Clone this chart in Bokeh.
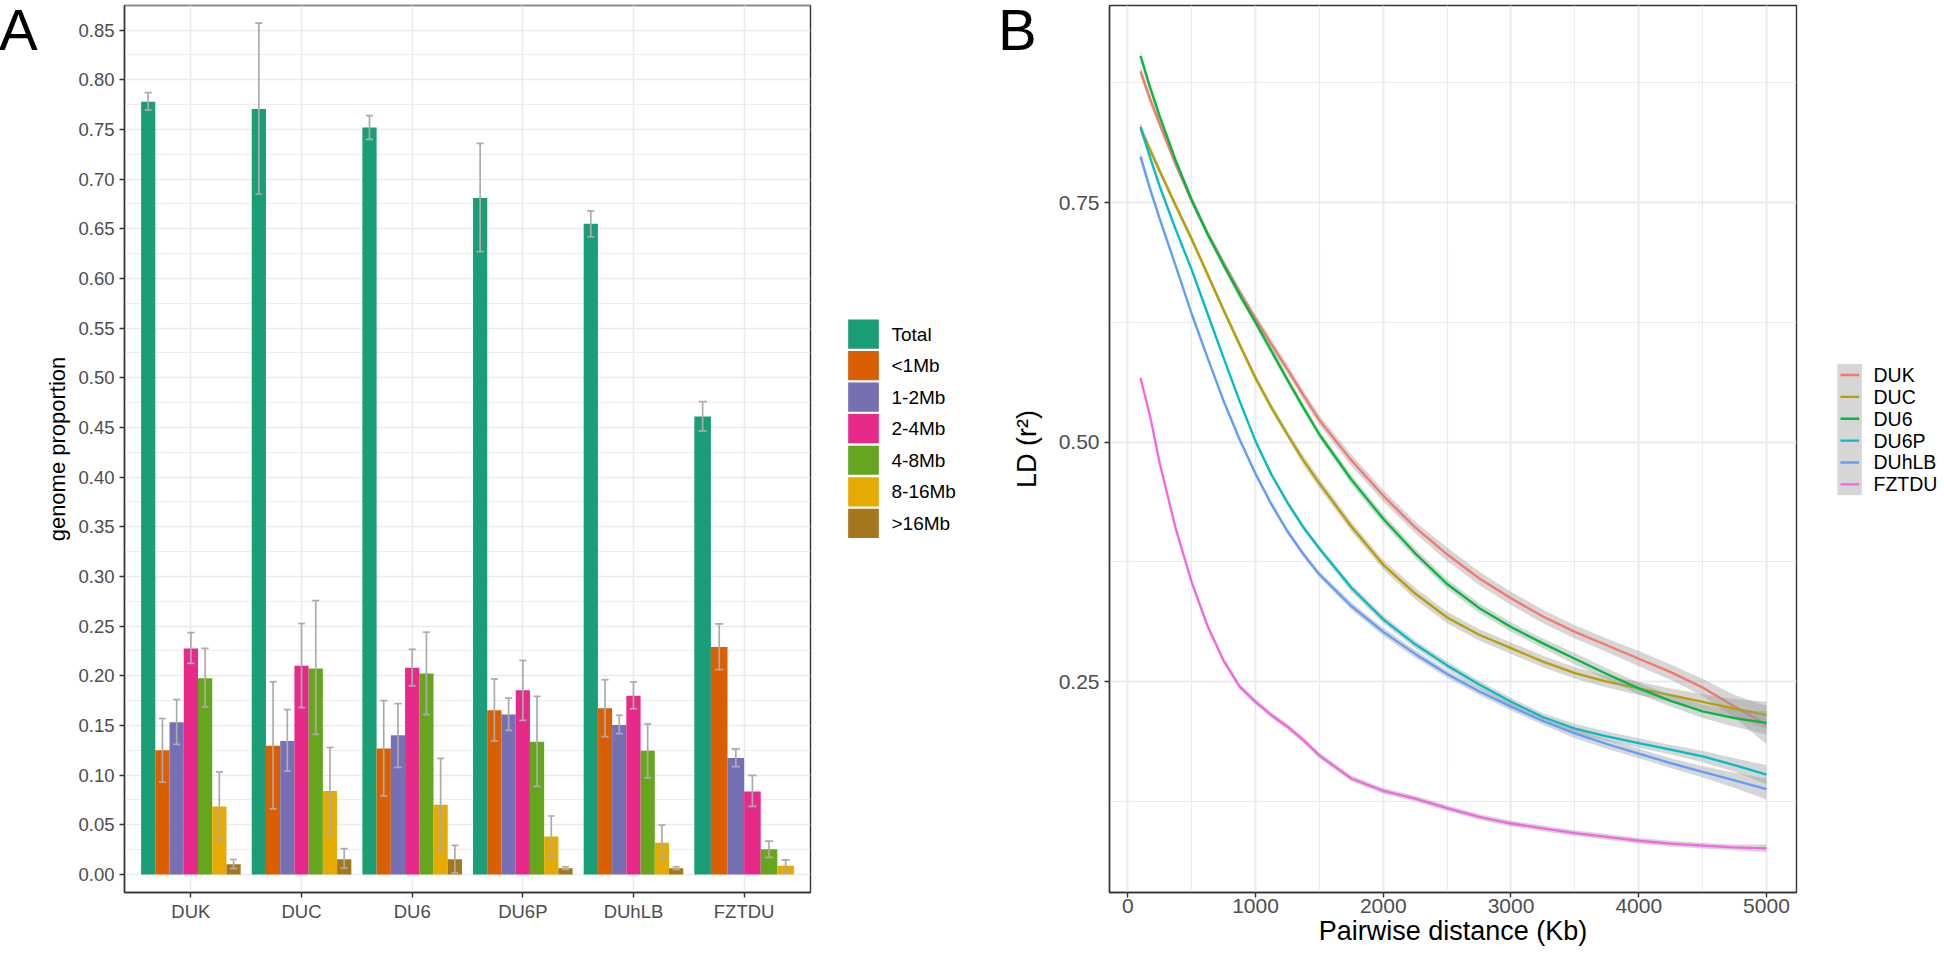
from bokeh.plotting import figure
from bokeh.models import Range1d, FixedTicker, NumeralTickFormatter, Div
from bokeh.core.properties import value
from bokeh.layouts import row
from bokeh.embed import file_html
from bokeh.resources import INLINE

FONT = "Liberation Sans"

# ---------------- Panel A data ----------------
groups = ["DUK", "DUC", "DU6", "DU6P", "DUhLB", "FZTDU"]
classes = ["Total", "<1Mb", "1-2Mb", "2-4Mb", "4-8Mb", "8-16Mb", ">16Mb"]
class_colors = ["#1B9E77", "#D95F02", "#7570B3", "#E7298A", "#66A61E", "#E6AB02", "#A6761D"]

total_mean = [0.778, 0.7705, 0.752, 0.681, 0.655, 0.461]
total_lo = [0.7695, 0.685, 0.740, 0.627, 0.642, 0.4465]
total_hi = [0.787, 0.857, 0.764, 0.736, 0.668, 0.476]
lt1_mean = [0.125, 0.1296, 0.1267, 0.1654, 0.1672, 0.2289]
lt1_lo = [0.093, 0.066, 0.079, 0.1344, 0.1387, 0.2062]
lt1_hi = [0.157, 0.194, 0.175, 0.1968, 0.196, 0.2522]
mb12_mean = [0.1533, 0.1344, 0.1401, 0.161, 0.1504, 0.1172]
mb12_lo = [0.131, 0.104, 0.1077, 0.145, 0.1417, 0.1085]
mb12_hi = [0.176, 0.166, 0.172, 0.1775, 0.1603, 0.1264]
mb24_mean = [0.2275, 0.21, 0.208, 0.1854, 0.18, 0.0836]
mb24_lo = [0.2125, 0.168, 0.1898, 0.1551, 0.1668, 0.0686]
mb24_hi = [0.2435, 0.2526, 0.2267, 0.2154, 0.1939, 0.0997]
mb48_mean = [0.1975, 0.2074, 0.2022, 0.1336, 0.1245, 0.0253]
mb48_lo = [0.1686, 0.141, 0.161, 0.0887, 0.0971, 0.0172]
mb48_hi = [0.2275, 0.2757, 0.2439, 0.1793, 0.1515, 0.0336]
mb816_mean = [0.0683, 0.084, 0.0701, 0.0383, 0.0318, 0.0088]
mb816_lo = [0.0336, 0.041, 0.0233, 0.0179, 0.0157, 0.0026]
mb816_hi = [0.1033, 0.1278, 0.1168, 0.0588, 0.0497, 0.0146]
gt16_mean = [0.0103, 0.0154, 0.0154, 0.0062, 0.0062, None]
gt16_lo = [0.0058, 0.0063, 0.0015, 0.0051, 0.0051, None]
gt16_hi = [0.015, 0.026, 0.0292, 0.0077, 0.0077, None]

y_ticks_A = [0.00, 0.05, 0.10, 0.15, 0.20, 0.25, 0.30, 0.35, 0.40, 0.45, 0.50,
             0.55, 0.60, 0.65, 0.70, 0.75, 0.80, 0.85]

# ---------------- Panel B data ----------------
ld_groups = ["DUK", "DUC", "DU6", "DU6P", "DUhLB", "FZTDU"]
ld_colors = ["#F8766D", "#B79F00", "#00BA38", "#00BFC4", "#619CFF", "#F564E3"]
dist_kb = [100, 175, 250, 375, 500, 625, 750, 875, 1000, 1125, 1250, 1375, 1500, 1750,
           2000, 2250, 2500, 2750, 3000, 3250, 3500, 3750, 4000, 4250, 4500, 4750, 5000]
ld_DUK = [0.887, 0.858, 0.832, 0.790, 0.752, 0.718, 0.687, 0.657, 0.629, 0.602, 0.576, 0.549,
          0.523, 0.481, 0.444, 0.411, 0.383, 0.358, 0.337, 0.318, 0.302, 0.288, 0.274, 0.260,
          0.244, 0.224, 0.205]
ld_DUC = [0.827, 0.805, 0.783, 0.747, 0.712, 0.675, 0.638, 0.602, 0.567, 0.536, 0.508, 0.481,
          0.457, 0.412, 0.372, 0.342, 0.317, 0.299, 0.285, 0.271, 0.259, 0.250, 0.243, 0.236,
          0.229, 0.222, 0.215]
ld_DU6 = [0.903, 0.870, 0.840, 0.794, 0.753, 0.717, 0.685, 0.654, 0.625, 0.595, 0.565, 0.536,
          0.508, 0.461, 0.420, 0.384, 0.352, 0.327, 0.307, 0.290, 0.274, 0.258, 0.243, 0.230,
          0.219, 0.212, 0.207]
ld_DU6P = [0.829, 0.797, 0.767, 0.722, 0.680, 0.634, 0.588, 0.543, 0.501, 0.466, 0.437, 0.411,
           0.389, 0.348, 0.315, 0.289, 0.267, 0.247, 0.229, 0.213, 0.201, 0.193, 0.186, 0.179,
           0.172, 0.163, 0.153]
ld_DUhLB = [0.798, 0.764, 0.733, 0.684, 0.634, 0.588, 0.543, 0.503, 0.467, 0.435, 0.407, 0.383,
            0.362, 0.329, 0.302, 0.279, 0.258, 0.240, 0.224, 0.209, 0.196, 0.185, 0.175, 0.165,
            0.156, 0.147, 0.138]
ld_FZTDU = [0.567, 0.527, 0.478, 0.410, 0.354, 0.308, 0.272, 0.245, 0.229, 0.215, 0.203, 0.189,
            0.173, 0.149, 0.136, 0.128, 0.118, 0.109, 0.102, 0.097, 0.092, 0.088, 0.084, 0.081,
            0.079, 0.077, 0.076]
se_DUK = [0.006, 0.005, 0.005, 0.004, 0.004, 0.004, 0.004, 0.004, 0.004, 0.005, 0.005, 0.005,
          0.005, 0.006, 0.006, 0.006, 0.007, 0.007, 0.007, 0.007, 0.007, 0.007, 0.008, 0.008,
          0.009, 0.012, 0.020]
se_DUC = [0.006, 0.005, 0.004, 0.004, 0.004, 0.004, 0.004, 0.004, 0.004, 0.004, 0.004, 0.005,
          0.005, 0.005, 0.005, 0.006, 0.006, 0.006, 0.006, 0.006, 0.006, 0.006, 0.007, 0.007,
          0.008, 0.010, 0.014]
se_DU6 = [0.006, 0.005, 0.004, 0.004, 0.004, 0.004, 0.004, 0.004, 0.004, 0.004, 0.004, 0.004,
          0.004, 0.005, 0.005, 0.005, 0.005, 0.005, 0.005, 0.005, 0.006, 0.006, 0.006, 0.006,
          0.007, 0.009, 0.012]
se_DU6P = [0.005, 0.004, 0.004, 0.003, 0.003, 0.003, 0.003, 0.003, 0.003, 0.003, 0.003, 0.003,
           0.003, 0.004, 0.004, 0.004, 0.004, 0.004, 0.004, 0.004, 0.005, 0.005, 0.005, 0.005,
           0.006, 0.007, 0.010]
se_DUhLB = [0.005, 0.004, 0.004, 0.003, 0.003, 0.003, 0.003, 0.003, 0.003, 0.003, 0.003, 0.003,
            0.003, 0.004, 0.004, 0.004, 0.004, 0.004, 0.004, 0.004, 0.005, 0.005, 0.005, 0.005,
            0.006, 0.008, 0.011]
se_FZTDU = [0.003, 0.003, 0.003, 0.003, 0.003, 0.003, 0.003, 0.003, 0.003, 0.003, 0.003, 0.003,
            0.003, 0.003, 0.003, 0.003, 0.003, 0.003, 0.003, 0.003, 0.003, 0.003, 0.003, 0.003,
            0.003, 0.003, 0.004]
x_ticks_B = [0, 1000, 2000, 3000, 4000, 5000]
x_minor_B = [500, 1500, 2500, 3500, 4500]
y_ticks_B = [0.25, 0.50, 0.75]
y_minor_B = [0.125, 0.375, 0.625, 0.875]

GRID = "#EBEBEB"
BORDER = "#333333"
TICKTXT = "#4D4D4D"
H = 953


def style_axes(p, tick_size, label_size):
    for ax in (p.xaxis[0], p.yaxis[0]):
        ax.axis_line_color = BORDER
        ax.axis_line_width = 1.4
        ax.major_tick_line_color = BORDER
        ax.major_tick_line_width = 1.4
        ax.major_tick_out = 5
        ax.major_tick_in = 0
        ax.minor_tick_line_color = None
        ax.major_label_text_font = FONT
        ax.major_label_text_font_size = tick_size
        ax.major_label_text_color = TICKTXT
        ax.axis_label_text_font = FONT
        ax.axis_label_text_font_size = label_size
        ax.axis_label_text_font_style = "normal"
        ax.axis_label_text_color = "black"
    p.outline_line_color = BORDER
    p.outline_line_width = 1.4
    p.background_fill_color = "white"
    p.border_fill_color = None


def legend_canvas(width):
    # blank strip: frame fills the canvas, 1 unit = 1 px, y grows downward
    q = figure(width=width, height=H, x_range=Range1d(0, width), y_range=Range1d(H, 0),
               x_axis_type=None, y_axis_type=None, output_backend="svg", toolbar_location=None,
               min_border=0, min_border_left=0, min_border_right=0, min_border_top=0,
               min_border_bottom=0)
    q.outline_line_color = None
    q.grid.visible = False
    q.background_fill_color = None
    q.border_fill_color = None
    return q


# ================= Panel A =================
pA = figure(width=822, height=H, x_range=Range1d(0.4, 6.6), y_range=Range1d(-0.0182, 0.8748),
            output_backend="svg", toolbar_location=None,
            min_border_left=119, min_border_right=17, min_border_top=5, min_border_bottom=60)
style_axes(pA, "18.5px", "22px")
pA.xaxis.ticker = FixedTicker(ticks=list(range(1, len(groups) + 1)))
pA.xaxis.major_label_overrides = {i + 1: g for i, g in enumerate(groups)}
pA.xaxis.major_label_standoff = 3
pA.yaxis.ticker = FixedTicker(ticks=y_ticks_A,
                              minor_ticks=[t + 0.025 for t in y_ticks_A[:-1]] + [0.875])
pA.yaxis.formatter = NumeralTickFormatter(format="0.00")
pA.yaxis.major_label_standoff = 5
pA.yaxis.axis_label = "genome proportion"
pA.yaxis.axis_label_standoff = 5
pA.xgrid.grid_line_color = GRID
pA.xgrid.grid_line_width = 1.6
pA.ygrid.grid_line_color = GRID
pA.ygrid.grid_line_width = 1.6
pA.ygrid.minor_grid_line_color = GRID
pA.ygrid.minor_grid_line_width = 0.9

series_mean = [total_mean, lt1_mean, mb12_mean, mb24_mean, mb48_mean, mb816_mean, gt16_mean]
series_lo = [total_lo, lt1_lo, mb12_lo, mb24_lo, mb48_lo, mb816_lo, gt16_lo]
series_hi = [total_hi, lt1_hi, mb12_hi, mb24_hi, mb48_hi, mb816_hi, gt16_hi]

ex, ey0, ey1 = [], [], []
cx0, cx1, cy = [], [], []
for ci, cls in enumerate(classes):
    xs, tops, ws = [], [], []
    for gi, g in enumerate(groups):
        m = series_mean[ci][gi]
        if m is None:
            continue
        present = [k for k in range(len(classes)) if series_mean[k][gi] is not None]
        n = len(present)
        w = 0.9 / n
        k = present.index(ci)
        xc = gi + 1 - 0.45 + (k + 0.5) * w
        xs.append(xc)
        tops.append(m)
        ws.append(w)
        lo, hi = series_lo[ci][gi], series_hi[ci][gi]
        ex.append(xc); ey0.append(lo); ey1.append(hi)
        for yv in (lo, hi):
            cx0.append(xc - w / 4); cx1.append(xc + w / 4); cy.append(yv)
    pA.vbar(x=xs, top=tops, bottom=0, width=ws, fill_color=class_colors[ci], line_color=None)

ERR = "#ABABAB"
pA.segment(x0=ex, y0=ey0, x1=ex, y1=ey1, line_color=ERR, line_width=1.7)
pA.segment(x0=cx0, y0=cy, x1=cx1, y1=cy, line_color=ERR, line_width=1.7)

# legend strip for panel A (page x 830 .. 1000)
legA_fig = legend_canvas(170)
rowsA = [353.0 + 33.9 * i for i in range(len(classes))]
legA_fig.rect(x=[36.0] * len(classes), y=rowsA, width=30.7, height=31.4,
              fill_color=class_colors, line_color=None)
legA_fig.text(x=[64.0] * len(classes), y=rowsA, text=classes, text_font=value(FONT),
              text_font_size=value("19px"), text_color="black", text_baseline="middle",
              text_align="left")

# ================= Panel B =================
pB = figure(width=810, height=H, x_range=Range1d(-143, 5235), y_range=Range1d(0.030, 0.9557),
            output_backend="svg", toolbar_location=None,
            min_border_left=107, min_border_right=16, min_border_top=5, min_border_bottom=61)
style_axes(pB, "21px", "27px")
pB.xaxis.ticker = FixedTicker(ticks=x_ticks_B, minor_ticks=x_minor_B)
pB.xaxis.formatter = NumeralTickFormatter(format="0")
pB.xaxis.major_label_standoff = 1
pB.xaxis.axis_label = "Pairwise distance (Kb)"
pB.xaxis.axis_label_standoff = 0
pB.yaxis.ticker = FixedTicker(ticks=y_ticks_B, minor_ticks=y_minor_B)
pB.yaxis.formatter = NumeralTickFormatter(format="0.00")
pB.yaxis.major_label_standoff = 5
pB.yaxis.axis_label = "LD (r²)"
pB.yaxis.axis_label_standoff = 14
for g in (pB.xgrid, pB.ygrid):
    g.grid_line_color = GRID
    g.grid_line_width = 2
    g.minor_grid_line_color = GRID
    g.minor_grid_line_width = 1.1

ld_values = [ld_DUK, ld_DUC, ld_DU6, ld_DU6P, ld_DUhLB, ld_FZTDU]
ld_se = [se_DUK, se_DUC, se_DU6, se_DU6P, se_DUhLB, se_FZTDU]
for vals, se, col in zip(ld_values, ld_se, ld_colors):
    lo = [v - s for v, s in zip(vals, se)]
    hi = [v + s for v, s in zip(vals, se)]
    pB.varea(x=dist_kb, y1=lo, y2=hi, fill_color="#999999", fill_alpha=0.4)
    pB.line(x=dist_kb, y=vals, line_color=col, line_width=2.3)

# legend strip for panel B (page x 1810 .. 1936)
legB_fig = legend_canvas(126)
rowsB = [397.0 + 23.5 * i for i in range(len(ld_groups))]
legB_fig.rect(x=[37.15], y=[455.8], width=24.3, height=141, fill_color="#D6D6D6",
              line_color=None)
legB_fig.segment(x0=[28.0] * len(ld_groups), y0=rowsB, x1=[46.7] * len(ld_groups), y1=rowsB,
                 line_color=ld_colors, line_width=2.3)
legB_fig.text(x=[61.0] * len(ld_groups), y=rowsB, text=ld_groups, text_font=value(FONT),
              text_font_size=value("19.5px"), text_color="black", text_baseline="middle",
              text_align="left")

# panel tags
tag_style = {"overflow": "visible", "font-size": "58px", "line-height": "1",
             "font-family": "Liberation Sans", "color": "black", "white-space": "nowrap",
             "min-width": "0", "z-index": "10", "margin-right": "-45px"}
divA = Div(text="A", width=45, height=60, styles=dict(tag_style, transform="translate(-6px, -4px)"))
divB = Div(text="B", width=45, height=60, styles=dict(tag_style, transform="translate(-4px, -4px)"))

layout = row(divA, pA, legA_fig, divB, pB, legB_fig)
open("out.html", "w").write(file_html(layout, INLINE))
